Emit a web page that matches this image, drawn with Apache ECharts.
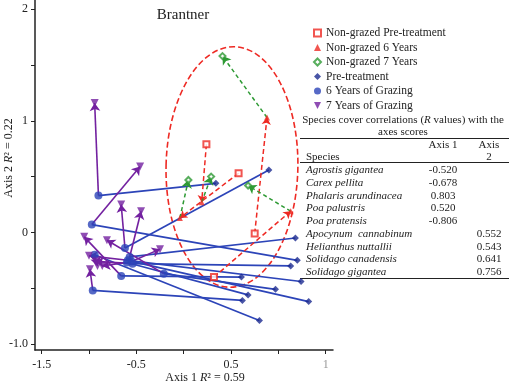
<!DOCTYPE html>
<html>
<head>
<meta charset="utf-8">
<script src="https://cdn.jsdelivr.net/npm/echarts@6/dist/echarts.min.js"></script>
<style>
html, body { margin: 0; padding: 0; background: #fff; }
#chart { width: 509px; height: 383px; }
</style>
</head>
<body>
<div id="chart"></div>
<script>
// non-grazed plots: pre-treatment -> 6 years -> 7 years
const nonGrazedPre = [[0.24, 0.79], [0.58, 0.53], [0.75, -0.01], [0.32, -0.40]];
const nonGrazed6 = [[0.19, 0.27], [-0.04, 0.13], [0.88, 1.03], [1.13, 0.19]];
const nonGrazed7 = [[0.29, 0.50], [0.05, 0.47], [0.41, 1.58], [0.68, 0.42]];

// grazed plots: pre-treatment -> 6 years -> 7 years
const grazedPre = [[0.34, 0.44], [1.20, -0.25], [0.80, -0.79], [0.90, 0.56], [1.18, -0.05], [1.24, -0.44],
  [1.32, -0.62], [1.13, -0.30], [0.68, -0.56], [0.61, -0.40], [0.97, -0.51], [0.62, -0.61]];
const grazed6 = [[-0.90, 0.33], [-0.97, 0.07], [-0.94, -0.20], [-0.62, -0.14], [-0.57, -0.22], [-0.59, -0.25],
  [-0.55, -0.26], [-0.54, -0.28], [-0.60, -0.27], [-0.66, -0.39], [-0.21, -0.37], [-0.96, -0.52]];
const grazed7 = [[-0.94, 1.16], [-0.46, 0.59], [-0.91, -0.30], [-0.66, 0.25], [-0.45, 0.19], [-1.00, -0.21],
  [-0.25, -0.15], [-0.93, -0.26], [-0.86, -0.30], [-1.05, -0.04], [-0.81, -0.07], [-0.99, -0.33]];

// ellipse round the non-grazed plots: cx, cy, rx, ry
const ellipse = [0.51, 0.586, 0.696, 1.078];

const xTicks = [-1.5, -1, -0.5, 0, 0.5, 1, 1.5];
const xLabels = [-1.5, -0.5, 0.5, 1.5];
const xLabelText = ['-1.5', '-0.5', '0.5', '{g|1}'];
const yTicks = [-1, -0.5, 0, 0.5, 1, 1.5, 2];
const yLabels = [-1, 0, 1, 2];
const yLabelText = ['-1.0', '0', '1', '2'];

const species = ['Agrostis gigantea', 'Carex pellita', 'Phalaris arundinacea', 'Poa palustris', 'Poa pratensis',
  'Apocynum  cannabinum', 'Helianthus nuttallii', 'Solidago canadensis', 'Solidago gigantea'];
const axis1R = ['-0.520', '-0.678', '0.803', '0.520', '-0.806', '', '', '', ''];
const axis2R = ['', '', '', '', '', '0.552', '0.543', '0.641', '0.756'];

const serif = 'Liberation Serif';
const RED = '#ee2a24', GREEN = '#2e9a34', BLUE = '#2c44b8', NAVY = '#1c2a90', PURPLE = '#7321a0';

function pairs(a, b) {
  return a.map((p, i) => ({ coords: [p, b[i]] }));
}

function txt(x, y, text, opt) {
  return {
    type: 'text', x: x, y: y, silent: true,
    style: Object.assign({
      text: text, fill: '#222', fontFamily: serif, fontSize: 11,
      align: 'left', verticalAlign: 'middle'
    }, opt || {})
  };
}

const graphics = [
  txt(183, 15, 'Brantner', { fontSize: 15, align: 'center' }),
  txt(205, 378, 'Axis 1 {i|R}\u00b2 = 0.59', { fontSize: 12, align: 'center',
    rich: { i: { fontStyle: 'italic', fontFamily: serif, fontSize: 12 } } }),
  Object.assign(txt(9, 158, 'Axis 2 {i|R}\u00b2 = 0.22', { fontSize: 12, align: 'center',
    rich: { i: { fontStyle: 'italic', fontFamily: serif, fontSize: 12 } } }), { rotation: Math.PI / 2 }),
  txt(403, 120, 'Species cover correlations ({i|R} values) with the', { align: 'center',
    rich: { i: { fontStyle: 'italic', fontFamily: serif, fontSize: 11 } } }),
  txt(403, 132.5, 'axes scores', { align: 'center' }),
  txt(443, 145, 'Axis 1', { align: 'center' }),
  txt(489, 145, 'Axis', { align: 'center' }),
  txt(489, 157, '2', { align: 'center' }),
  txt(306, 157, 'Species')
];
[138.5, 162.5, 278.5].forEach(y => {
  graphics.push({ type: 'line', silent: true, shape: { x1: 300, y1: y, x2: 509, y2: y },
    style: { stroke: '#222', lineWidth: 1 } });
});
species.forEach((s, i) => {
  const y = 170.5 + i * 12.7;
  graphics.push(txt(306, y, s, { fontStyle: 'italic' }));
  graphics.push(txt(443, y, axis1R[i], { align: 'center' }));
  graphics.push(txt(489, y, axis2R[i], { align: 'center' }));
});

const chart = echarts.init(document.getElementById('chart'));
chart.setOption({
  animation: false,
  backgroundColor: '#fff',
  grid: { left: 35, right: 176, top: 0, bottom: 33 },
  xAxis: {
    type: 'value', min: -1.57, max: 1.577,
    axisLine: { onZero: false, lineStyle: { color: '#222', width: 1.5 } },
    axisTick: { customValues: xTicks, length: 4, lineStyle: { color: '#222' } },
    axisLabel: {
      customValues: xLabels, margin: 9, color: '#222', fontFamily: serif, fontSize: 12,
      formatter: v => xLabelText[xLabels.indexOf(v)],
      rich: { g: { color: '#999', fontFamily: serif, fontSize: 12 } }
    },
    splitLine: { show: false }
  },
  yAxis: {
    type: 'value', min: -1.054, max: 2.083,
    axisLine: { show: true, onZero: false, lineStyle: { color: '#222', width: 1.5 } },
    axisTick: { show: true, customValues: yTicks, length: 4, lineStyle: { color: '#222' } },
    axisLabel: {
      customValues: yLabels, margin: 7, color: '#222', fontFamily: serif, fontSize: 12,
      formatter: v => yLabelText[yLabels.indexOf(v)]
    },
    splitLine: { show: false }
  },
  legend: {
    orient: 'vertical', left: 308, top: 21,
    itemWidth: 7, itemHeight: 7, itemGap: 0.5,
    selectedMode: false,
    textStyle: { color: '#222', fontFamily: serif, fontSize: 11.5, lineHeight: 14 },
    data: ['Non-grazed Pre-treatment', 'Non-grazed 6 Years', 'Non-grazed 7 Years',
      'Pre-treatment', '6 Years of Grazing',
      { name: '7 Years of Grazing', icon: 'path://M0,0 L10,0 L5,10 Z' }]
  },
  graphic: graphics,
  series: [
    {
      type: 'custom', silent: true, data: [ellipse], encode: { x: 0, y: 1 }, z: 1,
      renderItem: function (params, api) {
        const c = api.coord([api.value(0), api.value(1)]);
        const s = api.size([api.value(2), api.value(3)]);
        return {
          type: 'ellipse', x: c[0], y: c[1], rotation: -0.02,
          shape: { cx: 0, cy: 0, rx: s[0], ry: s[1] },
          style: { fill: 'none', stroke: RED, lineWidth: 1.6, lineDash: [6, 3] }
        };
      }
    },
    {
      type: 'lines', coordinateSystem: 'cartesian2d', silent: true, z: 2,
      symbol: ['none', 'none'],
      lineStyle: { color: BLUE, width: 1.7, opacity: 1 },
      data: pairs(grazedPre, grazed6)
    },
    {
      type: 'lines', coordinateSystem: 'cartesian2d', silent: true, z: 3,
      symbol: ['none', 'arrow'], symbolSize: 7,
      lineStyle: { color: RED, width: 1.5, type: [5, 3], opacity: 1 },
      data: pairs(nonGrazedPre, nonGrazed6)
    },
    {
      type: 'lines', coordinateSystem: 'cartesian2d', silent: true, z: 3,
      symbol: ['none', 'arrow'], symbolSize: 8,
      lineStyle: { color: GREEN, width: 1.5, type: [4, 3], opacity: 1 },
      data: pairs(nonGrazed6, nonGrazed7)
    },
    {
      type: 'lines', coordinateSystem: 'cartesian2d', silent: true, z: 4,
      symbol: ['none', 'arrow'], symbolSize: 8,
      lineStyle: { color: PURPLE, width: 1.6, opacity: 1 },
      data: pairs(grazed6, grazed7)
    },
    {
      name: 'Non-grazed Pre-treatment', type: 'scatter', z: 5,
      symbol: 'emptyRect', symbolSize: 6,
      itemStyle: { color: RED, borderWidth: 1 },
      data: nonGrazedPre
    },
    {
      name: 'Non-grazed 6 Years', type: 'scatter', z: 5,
      symbol: 'triangle', symbolSize: 6,
      itemStyle: { color: RED },
      data: nonGrazed6
    },
    {
      name: 'Non-grazed 7 Years', type: 'scatter', z: 5,
      symbol: 'emptyDiamond', symbolSize: 6,
      itemStyle: { color: GREEN, borderWidth: 1 },
      data: nonGrazed7
    },
    {
      name: 'Pre-treatment', type: 'scatter', z: 5,
      symbol: 'diamond', symbolSize: 7,
      itemStyle: { color: NAVY },
      data: grazedPre
    },
    {
      name: '6 Years of Grazing', type: 'scatter', z: 5,
      symbol: 'circle', symbolSize: 8,
      itemStyle: { color: BLUE },
      data: grazed6
    },
    {
      name: '7 Years of Grazing', type: 'scatter', z: 5,
      symbol: 'triangle', symbolRotate: 180, symbolSize: 8,
      itemStyle: { color: PURPLE },
      data: grazed7
    }
  ]
});
</script>
</body>
</html>
